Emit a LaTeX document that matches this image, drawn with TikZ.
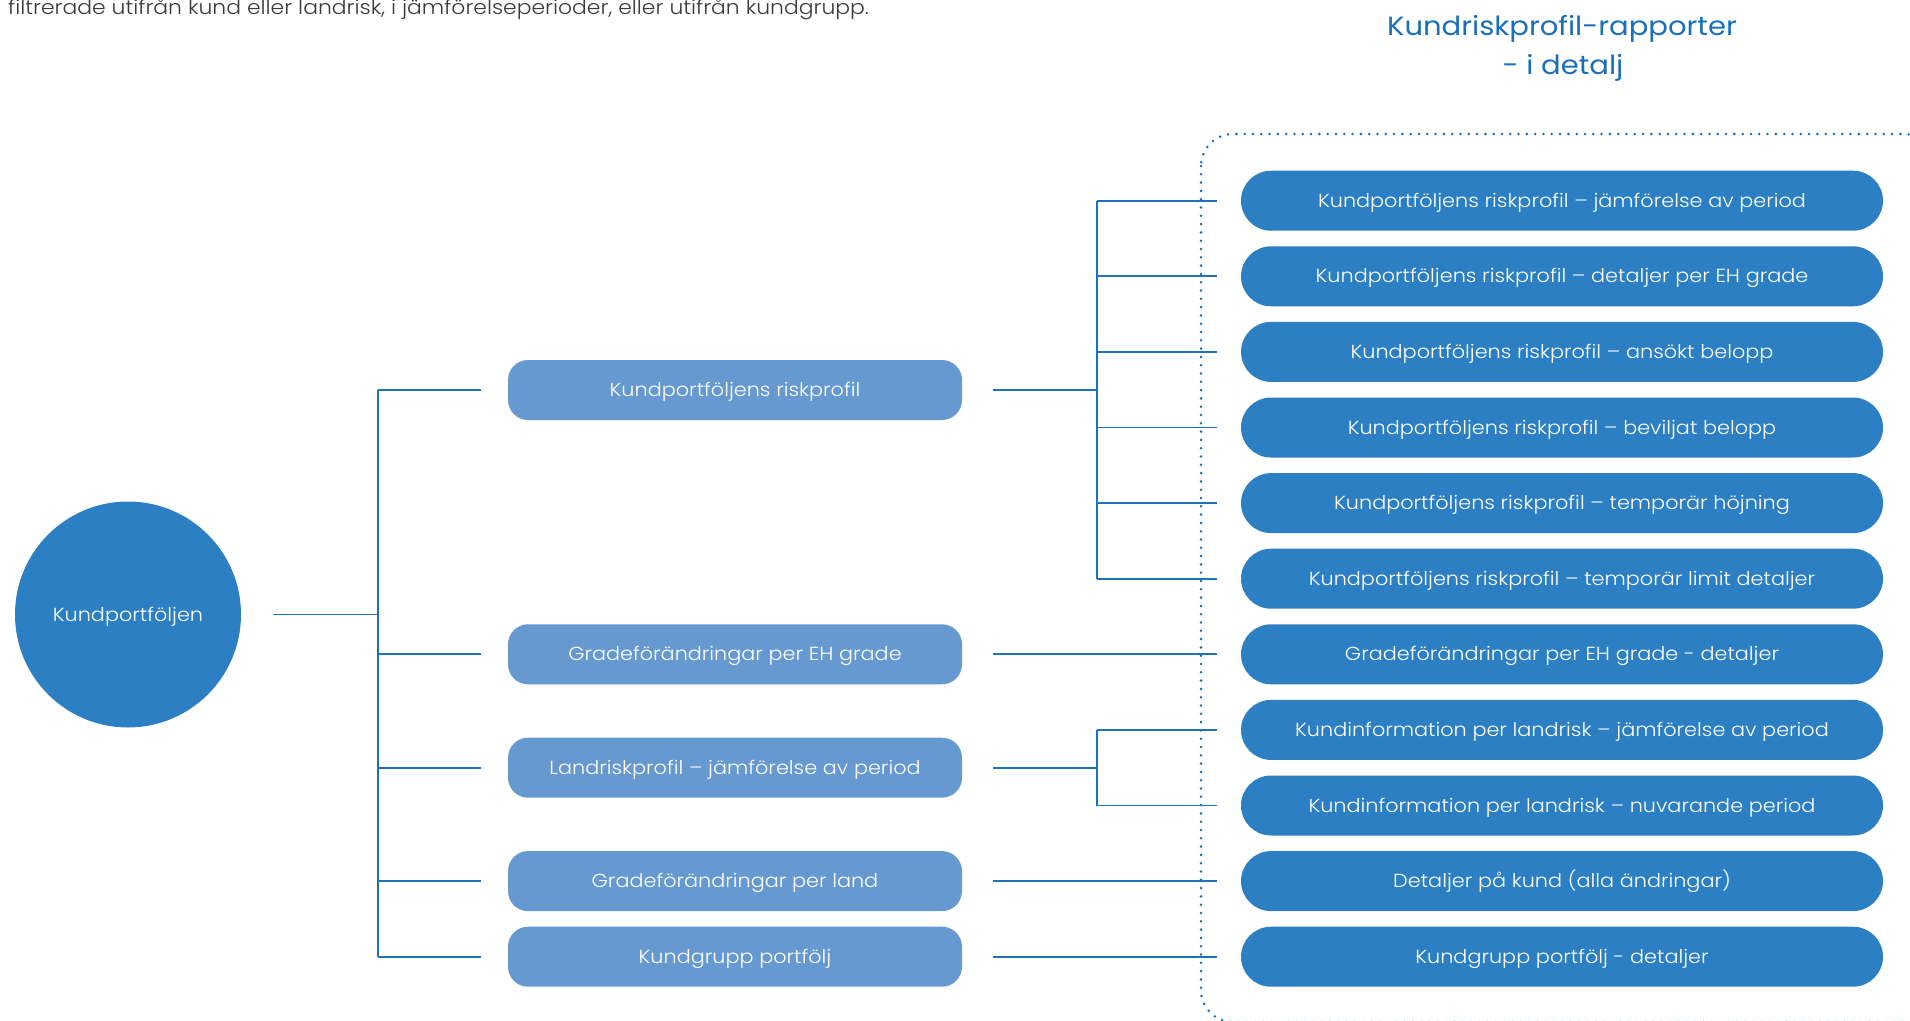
\documentclass[tikz,border=0pt]{standalone}
\usepackage{fontspec}
\setmainfont{Poppins}[FakeStretch=1.1]
\newfontfamily\lightfont{Poppins Light}[FakeStretch=1.1]
\usetikzlibrary{calc}
\definecolor{darkbox}{HTML}{2C7FC2}
\definecolor{lightbox}{HTML}{6699CF}
\definecolor{linec}{HTML}{1F72BA}
\definecolor{dotc}{HTML}{0B6FBE}
\definecolor{titlec}{HTML}{1A70B8}
\definecolor{bodyc}{HTML}{3A3A3A}
\tikzset{
  conn/.style={draw=linec, line width=1.8pt},
  boxtext/.style={font=\lightfont\fontsize{18.9}{22}\selectfont, text height=13pt, text depth=0pt},
  midbox/.style={boxtext, fill=lightbox, text=white, rounded corners=20pt, minimum width=454pt, minimum height=60pt, inner sep=0pt},
  rightbox/.style={boxtext, fill=darkbox, text=white, rounded corners=30pt, minimum width=642pt, minimum height=60pt, inner sep=0pt},
  rootnode/.style={boxtext, circle, fill=darkbox, text=white, minimum size=226pt, inner sep=0pt},
}
\begin{document}
\begin{tikzpicture}[x=1pt, y=-1pt]
\useasboundingbox (0,0) rectangle (1910,1020);
% top text
\node[anchor=base west, inner sep=0pt, text=bodyc, font=\lightfont\fontsize{19.9}{23}\selectfont] (intro) at (8,14) {filtrerade utifrån kund eller landrisk, i jämförelseperioder, eller utifrån kundgrupp.};
% title
\node[anchor=base, inner sep=0pt, text=titlec, font=\fontsize{26.4}{30}\selectfont] (title1) at (1562,35) {Kundriskprofil-rapporter};
\node[anchor=base, inner sep=0pt, text=titlec, font=\fontsize{26.4}{30}\selectfont] (title2) at (1563,74) {- i detalj};
% dotted frame
\draw[dotc, line width=2.8pt, line cap=round, dash pattern=on 0pt off 8.3pt, rounded corners=32pt] (1201,134) rectangle (1936,1022);
% root
\node[rootnode] (root) at (128,614.5) {Kundportföljen};
% middle
\node[midbox] (m1) at (735,390) {Kundportföljens riskprofil};
\node[midbox] (m2) at (735,654.3) {Gradeförändringar per EH grade};
\node[midbox] (m3) at (735,767.7) {Landriskprofil – jämförelse av period};
\node[midbox] (m4) at (735,881.1) {Gradeförändringar per land};
\node[midbox] (m5) at (735,956.7) {Kundgrupp portfölj};
% right
\node[rightbox] (r1) at (1562,200.7) {Kundportföljens riskprofil – jämförelse av period};
\node[rightbox] (r2) at (1562,276.3) {Kundportföljens riskprofil – detaljer per EH grade};
\node[rightbox] (r3) at (1562,351.9) {Kundportföljens riskprofil – ansökt belopp};
\node[rightbox] (r4) at (1562,427.5) {Kundportföljens riskprofil – beviljat belopp};
\node[rightbox] (r5) at (1562,503.1) {Kundportföljens riskprofil – temporär höjning};
\node[rightbox] (r6) at (1562,578.7) {Kundportföljens riskprofil – temporär limit detaljer};
\node[rightbox] (r7) at (1562,654.3) {Gradeförändringar per EH grade - detaljer};
\node[rightbox] (r8) at (1562,729.9) {Kundinformation per landrisk – jämförelse av period};
\node[rightbox] (r9) at (1562,805.5) {Kundinformation per landrisk – nuvarande period};
\node[rightbox] (r10) at (1562,881.1) {Detaljer på kund (alla ändringar)};
\node[rightbox] (r11) at (1562,956.7) {Kundgrupp portfölj - detaljer};
% left tree
\coordinate (t1) at (378,0);
\draw[conn] ($(root.east)+(32,0)$) -- (root.east -| t1);
\draw[conn] (m1.west -| t1) -- (m5.west -| t1);
\foreach \m in {m1,m2,m3,m4,m5}{
  \draw[conn] (\m.west -| t1) -- ($(\m.west)+(-27,0)$);
}
% right tree
\coordinate (t2) at (1097,0);
\draw[conn] ($(m1.east)+(31,0)$) -- (m1.east -| t2);
\draw[conn] (r1.west -| t2) -- (r6.west -| t2);
\foreach \r in {r1,r2,r3,r4,r5,r6,r8,r9}{
  \draw[conn] (\r.west -| t2) -- ($(\r.west)+(-24.3,0)$);
}
\draw[conn] ($(m3.east)+(31,0)$) -- (m3.east -| t2);
\draw[conn] (r8.west -| t2) -- (r9.west -| t2);
\draw[conn] ($(m2.east)+(31,0)$) -- ($(r7.west)+(-24.3,0)$);
\draw[conn] ($(m4.east)+(31,0)$) -- ($(r10.west)+(-24.3,0)$);
\draw[conn] ($(m5.east)+(31,0)$) -- ($(r11.west)+(-24.3,0)$);
\end{tikzpicture}
\end{document}
